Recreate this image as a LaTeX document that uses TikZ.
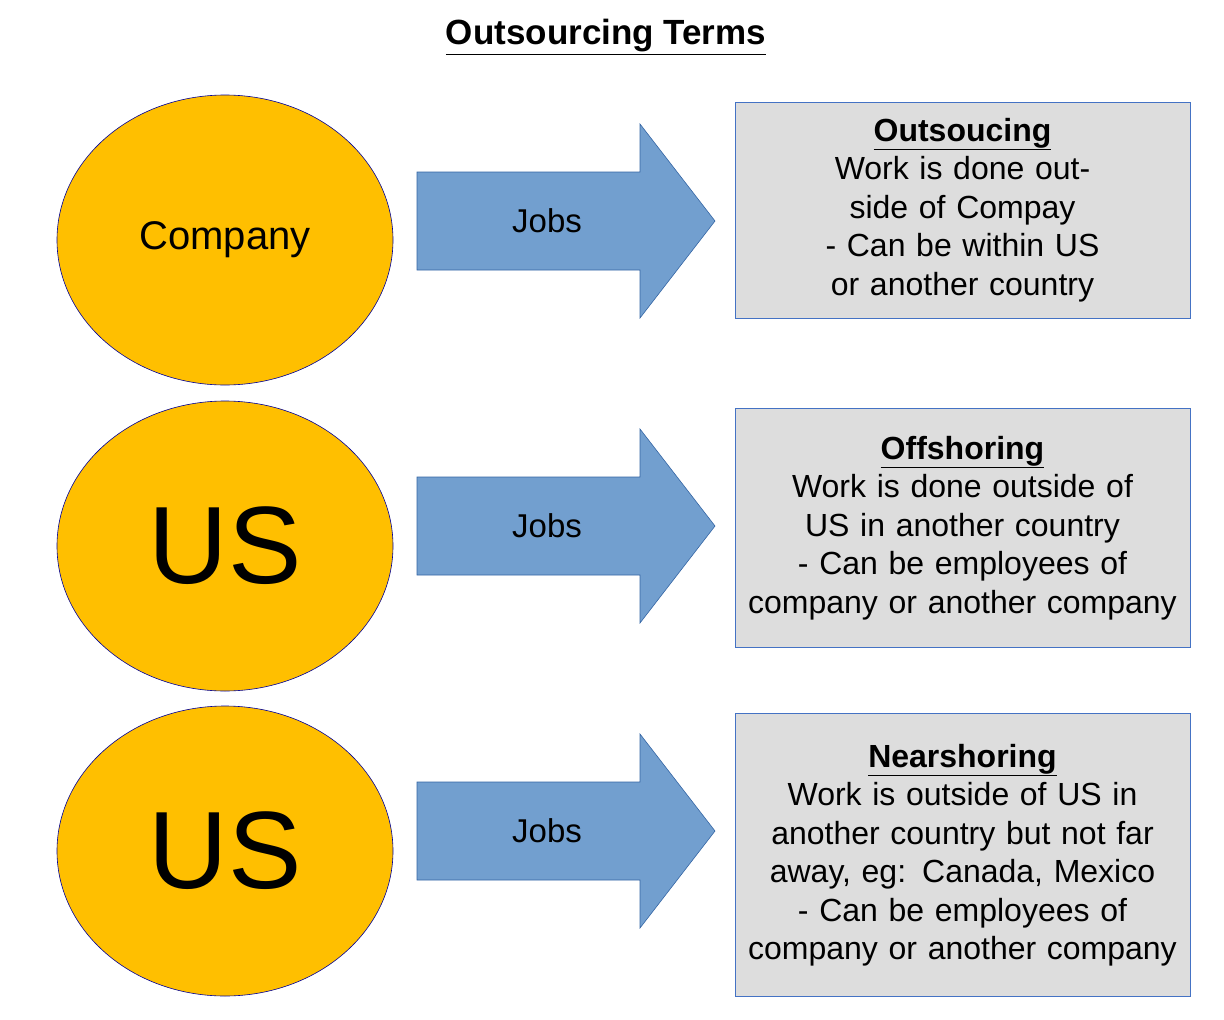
\documentclass[tikz,border=0pt]{standalone}
\usepackage{fontspec}
\setmainfont{Liberation Sans}
\begin{document}
\begin{tikzpicture}[x=1pt,y=-1pt,
  circ/.style={draw=blue!60!black,line width=0.6pt,fill={rgb,255:red,255;green,191;blue,0}},
  arr/.style={draw={rgb,255:red,52;green,101;blue,164},line width=0.6pt,fill={rgb,255:red,114;green,159;blue,207}},
  box/.style={draw={rgb,255:red,68;green,114;blue,196},line width=0.6pt,fill={rgb,255:red,221;green,221;blue,221}},
  txt/.style={align=center,text width=450pt,font=\fontsize{32}{38.5}\selectfont},
  lab/.style={font=\fontsize{33}{38}\selectfont}]
\useasboundingbox (0,0) rectangle (1224,1020);
\node[font=\fontsize{35}{40}\selectfont\bfseries] (title) at (606,37) {\underline{Outsourcing Terms}};
\foreach \n/\y/\t/\f in {a/240/Company/40,b/546/US/110,c/851/US/110}{
  \draw[circ] (225,\y) ellipse [x radius=168,y radius=145];
  \node[font=\fontsize{\f}{\f}\selectfont] (c\n) at (225,\y) {\t};
}
\foreach \n/\y in {a/221,b/526,c/831}{
  \draw[arr] (417,\y-49) -- (640,\y-49) -- (640,\y-97) -- (715,\y) -- (640,\y+97) -- (640,\y+49) -- (417,\y+49) -- cycle;
  \node[lab] (j\n) at (547,\y) {Jobs};
}
\draw[box] (735,102) rectangle (1190,318);
\node[txt] (ba) at (962.5,210) {\textbf{\underline{Outsoucing}}\\Work is done outside of Compay\\- Can be within US or another country};
\draw[box] (735,408) rectangle (1190,647);
\node[txt] (bb) at (962.5,528) {\textbf{\underline{Offshoring}}\\Work is done outside of\\US in another country\\- Can be employees of company or another company};
\draw[box] (735,713) rectangle (1190,996);
\node[txt] (bc) at (962.5,855) {\textbf{\underline{Nearshoring}}\\Work is outside of US in another country but not far away, eg: Canada, Mexico\\- Can be employees of company or another company};
\end{tikzpicture}
\end{document}
